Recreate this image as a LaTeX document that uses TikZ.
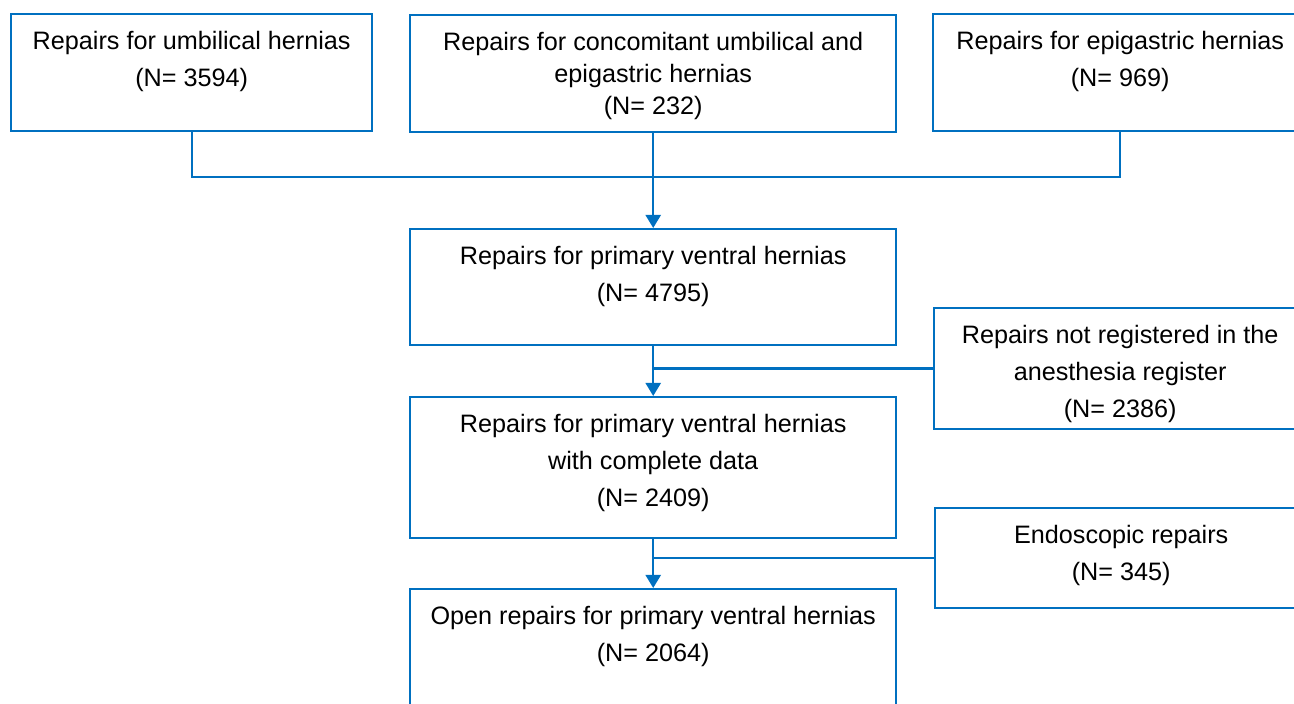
\documentclass[tikz,border=0pt]{standalone}
\usepackage{fontspec}
\setmainfont{Liberation Sans}
\usetikzlibrary{arrows.meta}
\definecolor{flowblue}{RGB}{0,112,192}

\begin{document}
\begin{tikzpicture}[x=0.5pt, y=-0.5pt,
  box/.style={draw=flowblue, line width=1.2pt, anchor=north west, inner sep=0pt},
  txt/.style={anchor=north, align=center, inner sep=0pt, yshift=-9pt,
    font=\fontsize{12.6}{18.5}\selectfont},
  link/.style={draw=flowblue, line width=1.2pt},
  arr/.style={link, -{Triangle[width=7.5pt, length=6.5pt]}}]
  \useasboundingbox (0,0) rectangle (1294,704);
  \clip (0,0) rectangle (1294,704);
  % ---------- top row ----------
  \node[box, minimum width=180.5pt, minimum height=58.5pt] (b1) at (10,13) {};
  \node[box, minimum width=243pt, minimum height=58.5pt] (b2) at (409,14) {};
  \node[box, minimum width=187pt, minimum height=58.5pt] (b3) at (932,13) {};
  \node[txt] (t1) at (b1.north) {Repairs for umbilical hernias\\(N= 3594)};
  \node[txt, font=\fontsize{12.6}{16}\selectfont] (t2) at (b2.north)
    {Repairs for concomitant umbilical and\\epigastric hernias\\(N= 232)};
  \node[txt] (t3) at (b3.north) {Repairs for epigastric hernias\\(N= 969)};
  % ---------- main column ----------
  \node[box, minimum width=243pt, minimum height=58pt] (b4) at (409,228) {};
  \node[box, minimum width=243pt, minimum height=70.5pt] (b6) at (409,396) {};
  \node[box, minimum width=243pt, minimum height=70.5pt] (b8) at (409,588) {};
  \node[txt] (t4) at (b4.north) {Repairs for primary ventral hernias\\(N= 4795)};
  \node[txt] (t6) at (b6.north)
    {Repairs for primary ventral hernias\\with complete data\\(N= 2409)};
  \node[txt] (t8) at (b8.north) {Open repairs for primary ventral hernias\\(N= 2064)};
  % ---------- exclusions ----------
  \node[box, minimum width=186pt, minimum height=60.5pt] (b5) at (933,307) {};
  \node[box, minimum width=186pt, minimum height=50pt] (b7) at (934,507) {};
  \node[txt] (t5) at (b5.north)
    {Repairs not registered in the\\anesthesia register\\(N= 2386)};
  \node[txt] (t7) at (b7.north) {Endoscopic repairs\\(N= 345)};
  % ---------- connectors ----------
  \coordinate (j1) at (652,177);
  \draw[link] (b1.south) |- (j1) -| (b3.south);
  \draw[arr] (b2.south) -- (b4.north);
  \draw[arr] (b4.south) -- (b6.north);
  \draw[arr] (b6.south) -- (b8.north);
  \draw[link] (b5.west) -- (b5.west -| b4.south);
  \draw[link] (b7.west) -- (b7.west -| b6.south);
\end{tikzpicture}
\end{document}
